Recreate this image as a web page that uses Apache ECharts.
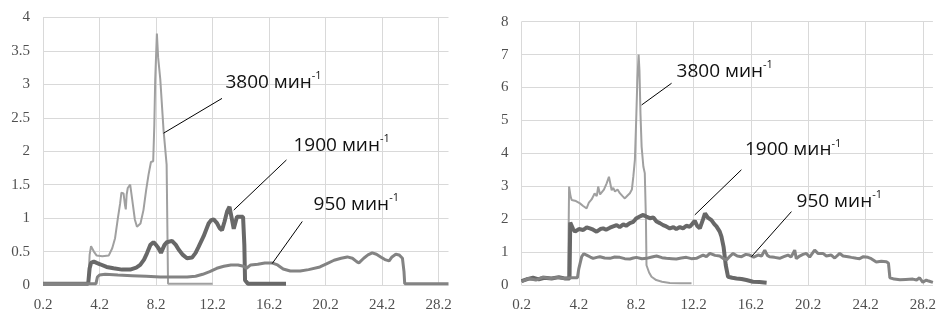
<!DOCTYPE html>
<html>
<head>
<meta charset="utf-8">
<script src="https://cdn.jsdelivr.net/npm/echarts@6/dist/echarts.min.js"></script>
<style>
  html, body { margin: 0; padding: 0; background: #fff; }
  #chart { width: 939px; height: 321px; }
</style>
</head>
<body>
<div id="chart"></div>
<script>
// x = time, y = value; left panel
const left3800 = [[0.2,0.02],[3.4,0.02],[3.5,0.45],[3.6,0.58],[3.8,0.5],[4.0,0.44],[4.4,0.43],[4.85,0.44],[5.1,0.55],[5.3,0.7],[5.5,1.0],[5.66,1.22],[5.75,1.38],[5.9,1.37],[6.0,1.2],[6.06,1.13],[6.12,1.35],[6.2,1.45],[6.37,1.5],[6.5,1.3],[6.7,0.98],[6.85,0.87],[6.96,0.86],[7.1,0.92],[7.31,1.12],[7.5,1.42],[7.67,1.65],[7.84,1.84],[8.0,1.85],[8.08,2.4],[8.14,3.06],[8.26,3.76],[8.35,3.4],[8.5,3.08],[8.73,2.32],[8.95,1.8],[9.05,0.02],[9.5,0.02],[12.2,0.02]]
const left1900 = [[0.2,0.02],[3.4,0.02],[3.5,0.25],[3.6,0.33],[3.8,0.35],[4.0,0.33],[4.24,0.31],[4.7,0.27],[5.19,0.25],[5.8,0.23],[6.37,0.23],[6.8,0.26],[7.08,0.3],[7.35,0.38],[7.55,0.47],[7.8,0.6],[8.02,0.64],[8.2,0.6],[8.38,0.55],[8.55,0.48],[8.62,0.47],[8.8,0.6],[8.97,0.64],[9.33,0.66],[9.6,0.6],[9.8,0.53],[10.1,0.45],[10.39,0.4],[10.75,0.41],[11.0,0.48],[11.21,0.57],[11.57,0.73],[11.92,0.92],[12.1,0.97],[12.28,0.98],[12.5,0.93],[12.7,0.85],[12.87,0.82],[13.05,0.95],[13.23,1.1],[13.4,1.17],[13.5,1.15],[13.6,0.95],[13.7,0.84],[13.8,0.92],[13.93,1.02],[14.1,1.02],[14.36,1.02],[14.45,0.6],[14.5,0.07],[14.7,0.02],[17.4,0.02]]
const left950 = [[0.2,0.02],[3.95,0.02],[4.05,0.12],[4.2,0.15],[4.6,0.16],[5.5,0.15],[6.5,0.14],[7.5,0.13],[8.5,0.12],[9.5,0.12],[10.4,0.12],[11.0,0.13],[11.5,0.16],[12.0,0.2],[12.5,0.25],[13.0,0.28],[13.5,0.3],[14.0,0.3],[14.4,0.28],[14.6,0.25],[14.9,0.3],[15.4,0.31],[15.9,0.33],[16.4,0.33],[16.8,0.3],[17.2,0.24],[17.7,0.21],[18.4,0.21],[19.0,0.23],[19.8,0.27],[20.3,0.32],[20.8,0.37],[21.3,0.4],[21.74,0.42],[22.1,0.4],[22.4,0.35],[22.56,0.33],[22.9,0.4],[23.2,0.45],[23.5,0.48],[23.8,0.46],[24.1,0.42],[24.4,0.38],[24.7,0.36],[24.9,0.42],[25.17,0.46],[25.4,0.45],[25.64,0.4],[25.75,0.2],[25.8,0.02],[26.2,0.02],[28.9,0.02]]

// right panel
const right3800 = [[0.2,0.1],[0.6,0.2],[1.0,0.15],[1.3,0.2],[1.7,0.25],[2.1,0.2],[2.6,0.22],[3.0,0.2],[3.45,0.2],[3.52,2.99],[3.62,2.7],[3.7,2.58],[4.0,2.55],[4.28,2.48],[4.5,2.4],[4.74,2.33],[4.9,2.5],[5.09,2.6],[5.3,2.78],[5.45,2.7],[5.55,2.99],[5.68,2.75],[5.78,2.78],[5.95,2.9],[6.14,3.09],[6.3,3.29],[6.37,3.29],[6.49,2.88],[6.6,2.95],[6.72,2.84],[6.9,2.9],[7.06,2.79],[7.25,2.7],[7.41,2.63],[7.6,2.72],[7.76,2.79],[7.9,2.9],[8.0,3.29],[8.11,3.8],[8.2,5.0],[8.28,6.2],[8.37,7.0],[8.43,6.5],[8.5,5.2],[8.58,4.2],[8.7,3.6],[8.8,3.4],[8.88,2.0],[8.92,0.6],[9.1,0.38],[9.27,0.25],[9.6,0.15],[10.0,0.1],[10.55,0.06],[11.3,0.05],[12.06,0.05]]
const right1900 = [[0.2,0.12],[0.6,0.18],[1.0,0.22],[1.4,0.17],[1.8,0.22],[2.3,0.2],[2.8,0.24],[3.2,0.2],[3.55,0.2],[3.6,1.9],[3.7,1.87],[3.8,1.7],[3.93,1.62],[4.2,1.7],[4.51,1.67],[4.75,1.75],[4.97,1.72],[5.2,1.68],[5.44,1.62],[5.7,1.7],[5.9,1.72],[6.1,1.68],[6.37,1.74],[6.6,1.78],[6.84,1.82],[7.05,1.76],[7.3,1.84],[7.5,1.8],[7.76,1.88],[8.0,1.92],[8.22,2.03],[8.45,2.08],[8.69,2.13],[8.9,2.08],[9.15,2.03],[9.4,2.05],[9.62,1.93],[9.85,1.88],[10.08,1.82],[10.3,1.78],[10.55,1.72],[10.8,1.76],[11.0,1.7],[11.25,1.76],[11.47,1.72],[11.7,1.8],[11.94,1.77],[12.1,1.85],[12.29,1.95],[12.45,1.8],[12.64,1.72],[12.87,2.0],[13.0,2.18],[13.2,2.05],[13.45,1.97],[13.65,1.85],[13.8,1.78],[14.03,1.62],[14.15,1.47],[14.3,1.15],[14.45,0.6],[14.61,0.25],[14.9,0.22],[15.2,0.2],[15.55,0.18],[15.89,0.15],[16.35,0.1],[16.8,0.09],[17.3,0.07]]
const right950 = [[0.2,0.1],[0.7,0.2],[1.2,0.15],[1.7,0.24],[2.2,0.2],[2.7,0.23],[3.2,0.2],[3.7,0.22],[4.1,0.22],[4.2,0.5],[4.4,0.86],[4.55,0.95],[4.74,0.91],[5.0,0.85],[5.2,0.81],[5.45,0.84],[5.67,0.86],[6.0,0.82],[6.37,0.81],[6.7,0.85],[7.06,0.84],[7.4,0.8],[7.76,0.79],[8.0,0.82],[8.22,0.84],[8.6,0.8],[8.92,0.81],[9.3,0.85],[9.62,0.88],[10.0,0.83],[10.3,0.81],[10.7,0.8],[11.0,0.79],[11.35,0.82],[11.7,0.84],[12.05,0.8],[12.4,0.81],[12.64,0.86],[12.87,0.91],[13.1,0.86],[13.34,0.96],[13.7,0.9],[14.03,0.88],[14.3,0.8],[14.5,0.76],[14.75,0.88],[14.96,0.96],[15.25,0.88],[15.55,0.86],[15.85,0.93],[16.1,0.91],[16.4,0.85],[16.7,0.91],[16.95,0.88],[17.17,1.06],[17.35,0.9],[17.5,0.86],[17.85,0.84],[18.21,0.81],[18.5,0.86],[18.79,0.91],[19.0,0.85],[19.14,0.96],[19.26,1.06],[19.37,0.8],[19.6,0.88],[19.84,0.93],[20.07,0.96],[20.3,0.85],[20.65,1.06],[20.88,0.96],[21.23,0.96],[21.47,0.88],[21.81,0.91],[22.05,0.82],[22.4,0.96],[22.63,0.88],[22.98,0.86],[23.21,0.84],[23.56,0.81],[23.79,0.8],[24.05,0.86],[24.37,0.84],[24.6,0.8],[24.95,0.7],[25.3,0.72],[25.65,0.71],[25.8,0.66],[25.9,0.22],[26.2,0.18],[26.6,0.16],[27.0,0.17],[27.5,0.18],[27.76,0.15],[27.97,0.22],[28.2,0.08],[28.44,0.15],[28.6,0.12],[28.9,0.08]]

// annotation texts, leader lines and text anchors (data coords)
const noteNames = ['3800', '1900', '950']
const leftLeaders = [[[8.73,2.27],[12.87,2.79]], [[13.7,1.12],[17.43,1.87]], [[16.42,0.32],[18.55,0.95]]]
const leftAnchors = [[13.11,3.03], [17.93,2.09], [19.35,1.2]]
const rightLeaders = [[[8.58,5.47],[10.67,6.13]], [[12.29,2.13],[15.54,3.5]], [[16.24,0.86],[19.03,2.23]]]
const rightAnchors = [[11.02,6.48], [15.79,4.1], [19.39,2.53]]

const xTicks = { min: 0.2, max: 28.9, interval: 4 }

const chart = echarts.init(document.getElementById('chart'), null, { renderer: 'canvas' })

const labelFont = { fontFamily: 'Liberation Serif', fontSize: 15, color: '#505050' }
const gridLine = { lineStyle: { color: '#d9d9d9', width: 1 } }

function xAxis(gridIndex) {
    return {
        type: 'value', gridIndex,
        min: xTicks.min, max: xTicks.max, interval: xTicks.interval,
        axisLine: { show: false }, axisTick: { show: false },
        splitLine: { ...gridLine, showMaxLine: false },
        axisLabel: { ...labelFont, margin: 13, showMaxLabel: false, formatter: v => v.toFixed(1) }
    }
}
function yAxis(gridIndex, max, interval) {
    return {
        type: 'value', gridIndex, min: 0, max, interval,
        axisLine: { show: false }, axisTick: { show: false },
        splitLine: gridLine,
        axisLabel: { ...labelFont, margin: 13 }
    }
}

const styles = {
    '3800': { color: '#a0a0a0', width: 2 },
    '1900': { color: '#686868', width: 4 },
    '950': { color: '#838383', width: 3 }
}

function makeSeries(name, data, axisIdx, leader, anchor) {
    return {
        type: 'line', name, data,
        xAxisIndex: axisIdx, yAxisIndex: axisIdx,
        showSymbol: false, smooth: false, clip: false,
        lineStyle: styles[name], itemStyle: { color: styles[name].color },
        markLine: {
            silent: true, symbol: 'none', animation: false,
            lineStyle: { color: '#000', width: 1, type: 'solid' },
            label: { show: false },
            data: [[{ coord: leader[0] }, { coord: leader[1] }]]
        },
        markPoint: {
            silent: true, symbol: 'circle', symbolSize: 0, animation: false,
            data: [{ coord: anchor }],
            label: {
                show: true, position: 'right', distance: 0,
                formatter: '{a|' + name + ' мин}{b|-1}',
                rich: {
                    a: { fontFamily: 'Open Sans', fontSize: 19, color: '#111', lineHeight: 24 },
                    b: { fontFamily: 'Open Sans', fontSize: 11, color: '#111', verticalAlign: 'top', lineHeight: 24, padding: [0, 0, 10, 0] }
                }
            }
        }
    }
}

const leftData = [left3800, left1900, left950]
const rightData = [right3800, right1900, right950]
const series = []
noteNames.forEach((n, i) => series.push(makeSeries(n, leftData[i], 0, leftLeaders[i], leftAnchors[i])))
noteNames.forEach((n, i) => series.push(makeSeries(n, rightData[i], 1, rightLeaders[i], rightAnchors[i])))

chart.setOption({
    animation: false,
    backgroundColor: '#fff',
    grid: [
        { left: 43, top: 17.5, width: 405.5, height: 267.5 },
        { left: 521.5, top: 21.7, width: 411.5, height: 263.3 }
    ],
    xAxis: [xAxis(0), xAxis(1)],
    yAxis: [yAxis(0, 4, 0.5), yAxis(1, 8, 1)],
    series
})
</script>
</body>
</html>
